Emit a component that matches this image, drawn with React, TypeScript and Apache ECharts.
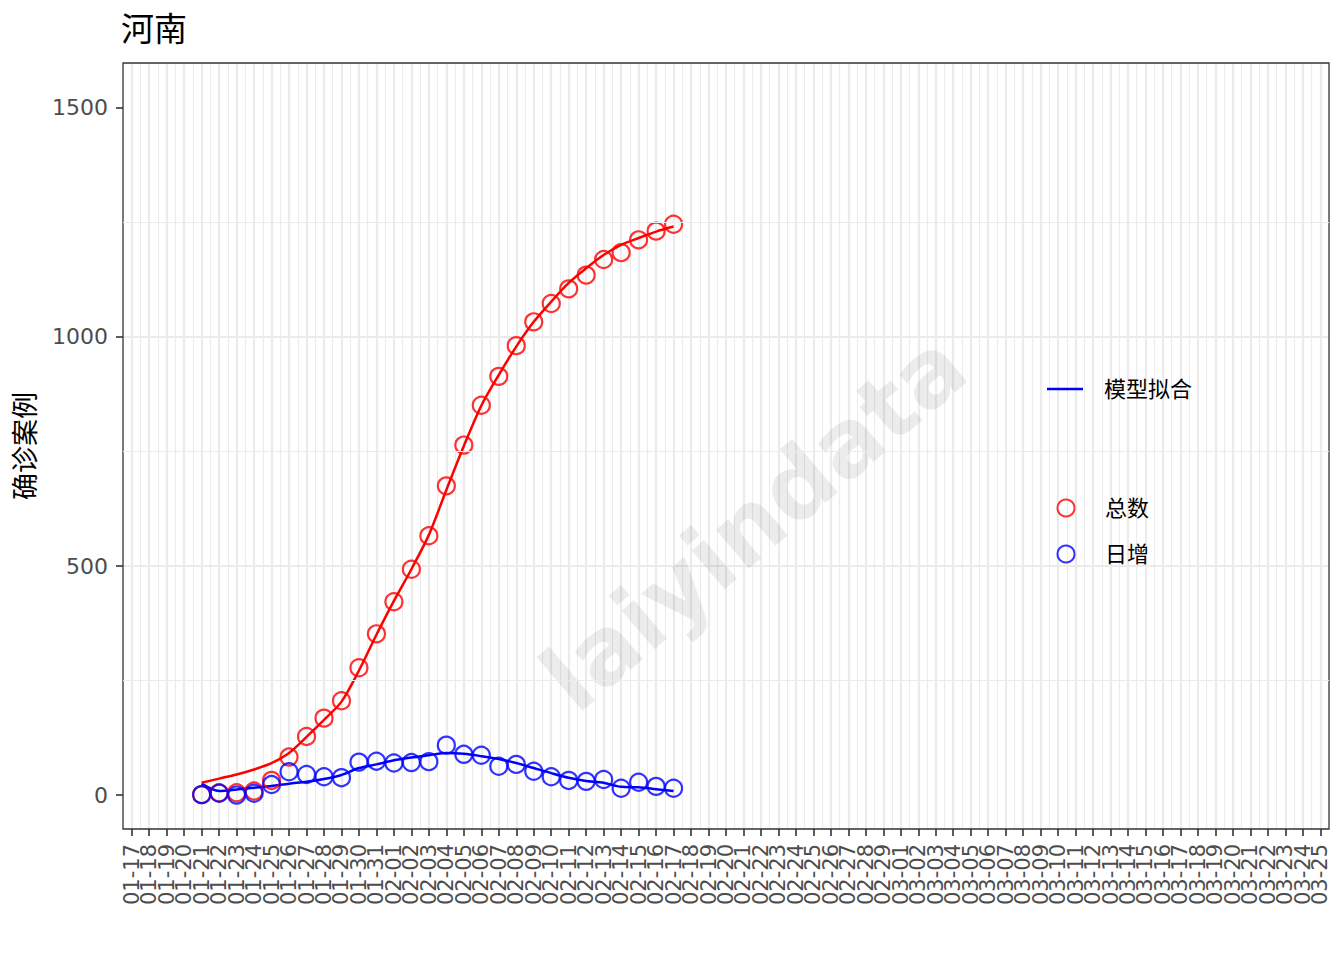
import React, { useEffect, useRef } from "react";
import * as echarts from "echarts";

const dateLabels = [
  "01-17", "01-18", "01-19", "01-20", "01-21", "01-22", "01-23", "01-24", "01-25", "01-26",
  "01-27", "01-28", "01-29", "01-30", "01-31", "02-01", "02-02", "02-03", "02-04", "02-05",
  "02-06", "02-07", "02-08", "02-09", "02-10", "02-11", "02-12", "02-13", "02-14", "02-15",
  "02-16", "02-17", "02-18", "02-19", "02-20", "02-21", "02-22", "02-23", "02-24", "02-25",
  "02-26", "02-27", "02-28", "02-29", "03-01", "03-02", "03-03", "03-04", "03-05", "03-06",
  "03-07", "03-08", "03-09", "03-10", "03-11", "03-12", "03-13", "03-14", "03-15", "03-16",
  "03-17", "03-18", "03-19", "03-20", "03-21", "03-22", "03-23", "03-24", "03-25",
];

const obsDates = [
  "01-21", "01-22", "01-23", "01-24", "01-25", "01-26", "01-27", "01-28", "01-29", "01-30",
  "01-31", "02-01", "02-02", "02-03", "02-04", "02-05", "02-06", "02-07", "02-08", "02-09",
  "02-10", "02-11", "02-12", "02-13", "02-14", "02-15", "02-16", "02-17",
];

const totalCases = [1, 5, 5, 9, 32, 83, 128, 168, 206, 278, 352, 422, 493, 566, 675, 764, 851, 914, 981, 1033, 1073, 1105, 1135, 1169, 1184, 1212, 1231, 1246];
const dailyNew = [1, 4, 0, 4, 23, 51, 45, 40, 38, 72, 74, 70, 71, 73, 109, 89, 87, 63, 67, 52, 40, 32, 30, 34, 15, 28, 19, 15];
const totalFit = [27, 36, 45, 56, 70, 92, 127, 164, 204, 272, 350, 424, 493, 568, 666, 762, 850, 917, 979, 1033, 1077, 1118, 1150, 1179, 1201, 1216, 1230, 1241];
const dailyFit = [25, 9, 12, 16, 20, 25, 29, 35, 44, 59, 67, 76, 82, 87, 92, 90, 85, 79, 70, 59, 48, 38, 31, 27, 18, 17, 13, 9];

const yTicks = [0, 500, 1000, 1500];
const yMinorLines = [250, 750, 1250];

const FONT = "'DejaVu Sans', 'Noto Sans CJK SC', sans-serif";

const pairs = (vals: number[]) => obsDates.map((d, i) => [d, vals[i]]);

export default function App() {
  const ref = useRef<HTMLDivElement>(null);

  useEffect(() => {
    if (!ref.current) return;
    const chart = echarts.init(ref.current, null, { renderer: "svg" });
    const option: any = {
      animation: false,
      backgroundColor: "#ffffff",
      textStyle: { fontFamily: FONT },
      title: {
        text: "河南",
        left: 121,
        top: 13,
        padding: 0,
        textStyle: { fontSize: 33, fontWeight: "normal", color: "#000", fontFamily: FONT },
      },
      grid: {
        left: 123,
        right: 15,
        top: 63,
        bottom: 131,
        show: true,
        borderColor: "#333333",
        borderWidth: 1.3,
        backgroundColor: "transparent",
        containLabel: false,
        outerBoundsMode: "none",
        z: 3,
      },
      xAxis: [
        {
          type: "category",
          data: dateLabels,
          boundaryGap: true,
          position: "bottom",
          axisLine: { show: false, onZero: false },
          axisTick: {
            show: true,
            alignWithLabel: true,
            interval: 0,
            length: 7,
            lineStyle: { color: "#333333", width: 1.6 },
          },
          axisLabel: {
            interval: 0,
            rotate: 90,
            fontSize: 21,
            color: "#4d4d4d",
            margin: 15,
            fontFamily: FONT,
          },
          splitLine: {
            show: true,
            interval: 0,
            showMinLine: false,
            showMaxLine: false,
            lineStyle: { color: "#ebebeb", width: 1.1 },
          },
        },
        {
          type: "value",
          min: -0.5,
          max: 68.5,
          minInterval: 1,
          maxInterval: 1,
          position: "top",
          axisLine: { show: false, onZero: false },
          axisTick: { show: false },
          axisLabel: { show: false },
          splitLine: {
            show: true,
            showMinLine: false,
            showMaxLine: false,
            lineStyle: { color: "#ebebeb", width: 2.2 },
          },
        },
      ],
      yAxis: {
        type: "value",
        min: -74,
        max: 1598,
        minInterval: 500,
        maxInterval: 500,
        name: "确诊案例",
        nameLocation: "middle",
        nameRotate: 90,
        nameGap: 84,
        nameTextStyle: { fontSize: 27, color: "#000", fontFamily: FONT },
        axisLine: { show: false, onZero: false },
        axisTick: {
          show: true,
          customValues: yTicks,
          length: 7,
          lineStyle: { color: "#333333", width: 1.6 },
        },
        axisLabel: {
          customValues: yTicks,
          fontSize: 22,
          color: "#4d4d4d",
          margin: 15,
          fontFamily: FONT,
          formatter: (v: number) => (yTicks.indexOf(v) >= 0 ? String(v) : ""),
        },
        splitLine: {
          show: true,
          showMinLine: false,
          showMaxLine: false,
          lineStyle: { color: "#ebebeb", width: 2.2 },
        },
      },
      legend: [
        {
          data: [{ name: "模型拟合", icon: "rect", itemStyle: { color: "#0000ff" } }],
          left: 1047,
          top: 378,
          padding: 0,
          itemWidth: 36,
          itemHeight: 2.5,
          selectedMode: false,
          textStyle: { fontSize: 22, color: "#000", lineHeight: 22, padding: [0, 0, 0, 16], fontFamily: FONT },
        },
        {
          data: ["总数", "日增"],
          orient: "vertical",
          left: 1056.5,
          top: 497,
          padding: 0,
          itemWidth: 17,
          itemHeight: 17,
          itemGap: 24,
          selectedMode: false,
          textStyle: { fontSize: 22, color: "#000", lineHeight: 22, padding: [0, 0, 0, 25.5], fontFamily: FONT },
        },
      ],
      graphic: [
        {
          type: "text",
          x: 754,
          y: 522,
          rotation: (40.5 * Math.PI) / 180,
          z: 1,
          silent: true,
          style: {
            text: "laiyindata",
            fontSize: 93,
            fontWeight: "bold",
            fontFamily: "'DejaVu Sans', sans-serif",
            fill: "rgba(0,0,0,0.075)",
            align: "center",
            verticalAlign: "middle",
          },
        },
      ],
      series: [
        {
          name: "_minor",
          type: "line",
          data: [],
          z: 0,
          silent: true,
          markLine: {
            silent: true,
            symbol: "none",
            label: { show: false },
            lineStyle: { color: "#ebebeb", width: 1.1, type: "solid" },
            data: yMinorLines.map((v) => ({ yAxis: v })),
          },
        },
        {
          name: "模型拟合",
          type: "line",
          data: pairs(dailyFit),
          symbol: "none",
          smooth: 0.3,
          color: "#0000ff",
          lineStyle: { color: "#0000ff", width: 2.5 },
          z: 3,
        },
        {
          name: "模型拟合",
          type: "line",
          data: pairs(totalFit),
          symbol: "none",
          smooth: 0.3,
          color: "#ff0000",
          lineStyle: { color: "#ff0000", width: 2.5 },
          z: 3,
        },
        {
          name: "总数",
          type: "scatter",
          data: pairs(totalCases),
          symbol: "circle",
          symbolSize: 17,
          itemStyle: { color: "rgba(0,0,0,0)", borderColor: "#ff0000", borderWidth: 2.2 },
          z: 4,
        },
        {
          name: "日增",
          type: "scatter",
          data: pairs(dailyNew),
          symbol: "circle",
          symbolSize: 17,
          itemStyle: { color: "rgba(0,0,0,0)", borderColor: "#0000ff", borderWidth: 2.2 },
          z: 5,
        },
      ],
    };
    chart.setOption(option);
    return () => chart.dispose();
  }, []);

  return (
    <div
      ref={ref}
      style={{ position: "fixed", left: 0, top: 0, width: 1344, height: 960, background: "#fff" }}
    />
  );
}
